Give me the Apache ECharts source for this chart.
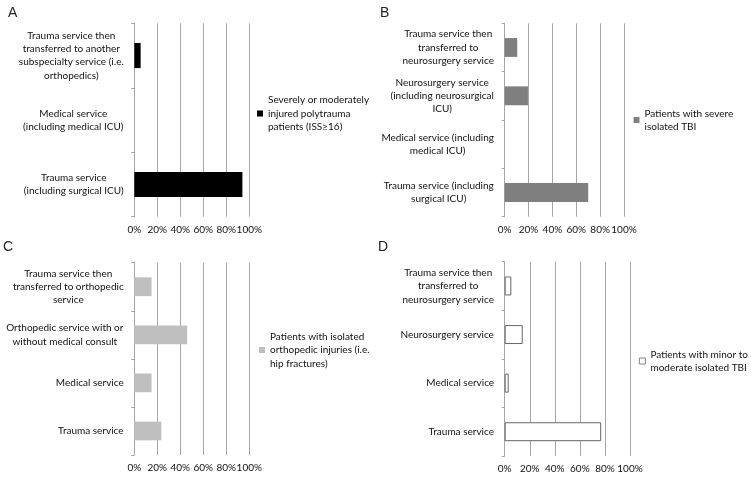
<!DOCTYPE html>
<html>
<head>
<meta charset="utf-8">
<script src="https://cdn.jsdelivr.net/npm/echarts@6/dist/echarts.min.js"></script>
<style>
html,body{margin:0;padding:0;background:#fff;}
#c{width:754px;height:482px;}
</style>
</head>
<body>
<div id="c"></div>
<script>
// ---- data ----
const catsA = ['Trauma service then\ntransferred to another\nsubspecialty service (i.e.\northopedics)', 'Medical service\n(including medical ICU)', 'Trauma service\n(including surgical ICU)'];
const valsA = [5.5, 0, 94];
const nameA = 'Severely or moderately\ninjured polytrauma\npatients (ISS\u226516)';

const catsB = ['Trauma service then\ntransferred to\nneurosurgery service', 'Neurosurgery service\n(including neurosurgical\nICU)', 'Medical service (including\nmedical ICU)', 'Trauma service (including\nsurgical ICU)'];
const valsB = [10.5, 19.5, 0, 70];
const nameB = 'Patients with severe\nisolated TBI';

const catsC = ['Trauma service then\ntransferred to orthopedic\nservice', 'Orthopedic service with or\nwithout medical consult', 'Medical service', 'Trauma service'];
const valsC = [15, 46, 15, 23.5];
const nameC = 'Patients with isolated\northopedic injuries (i.e.\nhip fractures)';

const catsD = ['Trauma service then\ntransferred to\nneurosurgery service', 'Neurosurgery service', 'Medical service', 'Trauma service'];
const valsD = [5.3, 14.4, 3.2, 77];
const nameD = 'Patients with minor to\nmoderate isolated TBI';

const panelLetters = ['A', 'B', 'C', 'D'];
const xTicks = [0, 20, 40, 60, 80, 100];

// ---- styling ----
const FONT = 'Lato';
const FS = 10;
const LH = 13.3;
const TXT = '#111';
const GRIDC = '#a6a6a6';
const cv = document.createElement('canvas').getContext('2d');
function measure(t){ cv.font = FS + 'px ' + FONT; return cv.measureText(t).width; }

const panels = [
  {cats: catsA, vals: valsA, name: nameA, color: '#000000', border: null, grid: {left: 134.3, top: 23.3, width: 115, height: 193.4}, leg: {x: 257, cy: 113.5}, letter: {x: 8, y: 6}},
  {cats: catsB, vals: valsB, name: nameB, color: '#7f7f7f', border: null, grid: {left: 504.7, top: 23.3, width: 119.3, height: 193.4}, leg: {x: 633.5, cy: 120}, letter: {x: 380, y: 6}},
  {cats: catsC, vals: valsC, name: nameC, color: '#bfbfbf', border: null, grid: {left: 134.3, top: 262.7, width: 115, height: 192.3}, leg: {x: 259, cy: 350}, letter: {x: 3, y: 240}},
  {cats: catsD, vals: valsD, name: nameD, color: '#ffffff', border: '#666666', grid: {left: 504.7, top: 261.7, width: 125.3, height: 194.3}, leg: {x: 639, cy: 361}, letter: {x: 378, y: 240}}
];

const option = {
  backgroundColor: '#fff',
  animation: false,
  grid: [], xAxis: [], yAxis: [], series: [], legend: [], title: []
};

panels.forEach((p, i) => {
  option.grid.push(Object.assign({containLabel: false}, p.grid));
  option.xAxis.push({
    type: 'value', gridIndex: i, min: xTicks[0], max: xTicks[xTicks.length - 1], interval: 20,
    axisLine: {show: false}, axisTick: {show: false},
    splitLine: {show: true, lineStyle: {color: GRIDC, width: 1}},
    axisLabel: {formatter: '{value}%', fontFamily: FONT, fontSize: FS, color: TXT, margin: 8, hideOverlap: false, showMinLabel: true, showMaxLabel: true}
  });
  const rich = {};
  p.cats.forEach((c, j) => {
    const w = Math.max(...c.split('\n').map(measure));
    rich['r' + j] = {width: Math.ceil(w) + 1, align: 'center', fontFamily: FONT, fontSize: FS, lineHeight: LH, color: TXT};
  });
  option.yAxis.push({
    type: 'category', gridIndex: i, data: p.cats, inverse: true,
    axisLine: {show: true, lineStyle: {color: GRIDC, width: 1}},
    axisTick: {show: true, length: 3, lineStyle: {color: GRIDC}},
    splitLine: {show: false},
    axisLabel: {
      interval: 0, margin: 10, align: 'right',
      formatter: (v, idx) => v.split('\n').map(l => '{r' + idx + '|' + l + '}').join('\n'),
      rich: rich
    }
  });
  const itemStyle = {color: p.color};
  if (p.border) { itemStyle.borderColor = p.border; itemStyle.borderWidth = 1; }
  option.series.push({
    type: 'bar', name: p.name, xAxisIndex: i, yAxisIndex: i, data: p.vals,
    barCategoryGap: '61%', itemStyle: itemStyle
  });
  const lines = p.name.split('\n').length;
  const H = (2 * lines - 1) * LH;
  const legItem = p.border ? {color: p.color, borderColor: p.border, borderWidth: 0.8} : {color: p.color, borderWidth: 0};
  option.legend.push({
    data: [p.name], left: p.leg.x, top: p.leg.cy - H / 2, orient: 'vertical', padding: 0,
    itemWidth: 6, itemHeight: 6, icon: 'rect', selectedMode: false, itemStyle: legItem,
    textStyle: {fontFamily: FONT, fontSize: FS, color: TXT, lineHeight: LH, padding: [(lines - 1) * LH, 0, 0, 0]}
  });
  option.title.push({
    text: panelLetters[i], left: p.letter.x, top: p.letter.y, padding: 0,
    textStyle: {fontFamily: 'Liberation Sans', fontWeight: 'normal', fontSize: 14, color: '#222'}
  });
});

const chart = echarts.init(document.getElementById('c'), null, {renderer: 'canvas'});
chart.setOption(option);
</script>
</body>
</html>
